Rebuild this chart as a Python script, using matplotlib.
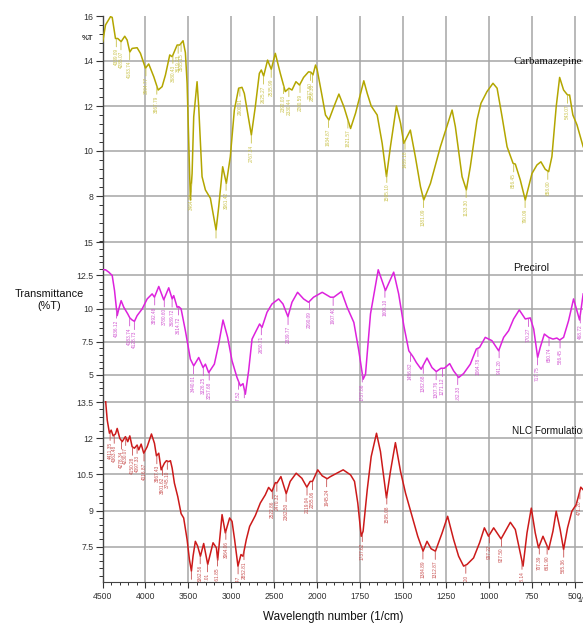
import numpy as np
import matplotlib
matplotlib.use("Agg")
import matplotlib.pyplot as plt
from matplotlib.ticker import AutoMinorLocator, FixedLocator, NullFormatter, FormatStrFormatter

plt.rcParams["font.family"] = ["Liberation Sans", "DejaVu Sans"]

# Carbamazepine spectrum (wavenumber 1/cm, %T)
cbz_wn = [4497, 4465, 4407, 4387, 4349, 4322, 4283, 4241, 4213, 4182, 4155, 4097, 4058,
          4000, 3962, 3903, 3852, 3806, 3767, 3717, 3689, 3631, 3601, 3585, 3562, 3535,
          3515, 3477, 3457, 3438, 3399, 3380, 3341, 3302, 3244, 3213, 3178, 3147, 3101,
          3058, 3012, 2965, 2915, 2876, 2849, 2810, 2767, 2721, 2674, 2651, 2624, 2578,
          2535, 2488, 2430, 2372, 2329, 2294, 2248, 2206, 2159, 2101, 2073, 2050, 2020,
          2000, 1971, 1952, 1932, 1903, 1874, 1845, 1806, 1777, 1729, 1709, 1686, 1651,
          1622, 1597, 1574, 1539, 1515, 1496, 1458, 1429, 1399, 1380, 1341, 1283, 1215,
          1196, 1157, 1132, 1109, 1070, 1047, 1012, 977, 953, 924, 895, 860, 847, 818,
          789, 750, 721, 698, 673, 653, 634, 609, 589, 566, 543, 531, 512, 488, 452]
cbz_t = [14.86, 15.6, 15.97, 15.94, 15.0, 15.0, 14.86, 15.1, 14.93, 14.4, 14.56, 14.59, 14.34,
         13.68, 13.87, 13.3, 12.71, 12.86, 13.38, 14.27, 14.19, 14.71, 14.71, 14.79, 14.9, 14.37,
         13.0, 7.82, 9.0, 11.52, 13.08, 11.97, 8.86, 8.27, 7.9, 7.23, 6.49, 7.52, 9.3,
         8.56, 9.75, 11.82, 12.79, 12.83, 12.56, 11.68, 10.71, 11.97, 13.45, 13.6, 13.33, 14.04,
         13.63, 14.34, 13.45, 12.64, 12.79, 12.71, 13.08, 12.93, 13.27, 13.52, 13.5, 13.38, 13.82,
         13.6, 12.41, 11.6, 11.38, 11.97, 12.53, 11.97, 11.0, 11.68, 13.12, 12.56, 12.0, 11.6,
         10.34, 8.86, 10.19, 12.0, 11.23, 10.34, 10.93, 9.75, 8.41, 7.82, 8.56, 10.19, 11.82,
         11.08, 8.86, 8.27, 9.3, 11.38, 12.12, 12.64, 13.01, 12.79, 11.52, 10.19, 9.45, 9.42, 8.71,
         7.82, 9.0, 9.38, 9.52, 9.19, 9.08, 9.75, 11.97, 13.27, 12.71, 12.49, 12.49, 11.6, 11.16, 10.19]

# Precirol spectrum
prc_wn = [4497, 4465, 4427, 4387, 4360, 4329, 4310, 4283, 4252, 4206, 4182, 4155, 4128,
          4097, 4038, 3980, 3922, 3895, 3845, 3787, 3729, 3689, 3671, 3631, 3613, 3585,
          3535, 3477, 3438, 3380, 3329, 3302, 3264, 3198, 3147, 3097, 3043, 2992, 2934,
          2895, 2864, 2837, 2799, 2759, 2721, 2671, 2643, 2585, 2527, 2450, 2399, 2341,
          2294, 2229, 2159, 2101, 2043, 1971, 1923, 1904, 1859, 1826, 1787, 1758, 1733,
          1719, 1690, 1645, 1603, 1555, 1526, 1496, 1467, 1442, 1423, 1395, 1361, 1332,
          1307, 1280, 1260, 1229, 1206, 1177, 1148, 1109, 1074, 1055, 1022, 983, 944, 915,
          886, 857, 824, 789, 760, 740, 717, 702, 678, 653, 628, 605, 589, 566, 537, 508,
          473, 452]
prc_t = [12.93, 12.93, 12.75, 12.5, 11.36, 9.47, 9.98, 10.6, 10.1, 9.6, 9.3, 9.14, 9.04,
         9.47, 9.98, 10.73, 11.11, 10.86, 11.67, 10.66, 11.57, 10.73, 10.98, 10.1, 10.15, 9.98,
         8.33, 6.19, 5.68, 6.31, 5.55, 5.81, 5.17, 5.81, 7.33, 9.14, 7.83, 6.06, 4.8,
         4.17, 4.34, 3.54, 5.3, 7.7, 8.2, 8.84, 8.58, 9.72, 10.35, 10.73, 10.35, 9.39,
         10.48, 11.23, 10.73, 10.48, 10.86, 11.23, 10.86, 10.86, 11.29, 10.1, 8.96, 6.82, 4.67,
         5.05, 9.6, 12.93, 11.36, 12.75, 11.11, 8.71, 6.82, 6.36, 5.93, 5.43, 6.27, 5.55,
         5.25, 5.5, 5.5, 5.85, 5.3, 4.8, 5.1, 5.81, 6.95, 7.07, 7.83, 7.58, 6.82, 7.83,
         8.33, 9.22, 9.9, 9.22, 9.3, 8.46, 6.31, 7.07, 8.08, 7.83, 7.7, 7.78, 7.63, 7.83, 9.09, 10.73,
         9.14, 11.11]

# NLC formulation spectrum
nlc_wn = [4500, 4465, 4445, 4419, 4399, 4376, 4349, 4329, 4299, 4271, 4233, 4206, 4182,
          4155, 4128, 4097, 4078, 4050, 4020, 3980, 3930, 3895, 3872, 3845, 3817, 3779,
          3756, 3729, 3709, 3689, 3663, 3624, 3585, 3555, 3515, 3488, 3465, 3446, 3419,
          3392, 3360, 3322, 3275, 3213, 3174, 3159, 3136, 3108, 3070, 3020, 2992, 2962,
          2923, 2888, 2864, 2826, 2787, 2721, 2663, 2605, 2566, 2527, 2488, 2469, 2423,
          2361, 2315, 2245, 2179, 2121, 2082, 2055, 1997, 1971, 1942, 1923, 1849, 1806,
          1783, 1764, 1744, 1733, 1709, 1686, 1655, 1632, 1597, 1574, 1545, 1515, 1486,
          1448, 1415, 1384, 1361, 1337, 1312, 1273, 1241, 1206, 1177, 1148, 1128, 1090,
          1055, 1027, 1003, 973, 930, 905, 876, 847, 818, 802, 779, 754, 731, 712, 686,
          653, 628, 609, 586, 566, 543, 518, 493, 480, 466, 452]
nlc_t = [14.2, 13.6, 12.76, 12.21, 12.34, 12.1, 12.18, 12.41, 12.0, 11.86, 12.07, 11.86, 12.1,
         11.65, 11.59, 11.72, 11.52, 11.76, 11.38, 11.65, 12.18, 11.79, 11.27, 11.38, 10.69, 10.97,
         11.07, 11.03, 11.07, 10.76, 10.14, 9.58, 8.87, 8.69, 7.79, 6.96, 6.48, 7.1, 7.72,
         7.52, 7.1, 7.63, 6.76, 7.66, 7.45, 6.94, 7.79, 8.83, 8.07, 8.69, 8.55, 7.79,
         6.69, 7.17, 7.1, 7.79, 8.34, 8.79, 9.31, 9.65, 9.96, 9.79, 10.16, 10.14, 10.41,
         9.7, 10.21, 10.55, 10.34, 9.97, 10.21, 10.21, 10.69, 10.44, 10.32, 10.41, 10.69, 10.48,
         10.21, 9.31, 7.93, 8.14, 9.86, 11.24, 12.21, 11.45, 9.52, 10.62, 11.82, 10.62, 9.72,
         8.76, 7.93, 7.31, 7.72, 7.41, 7.31, 8.07, 8.76, 7.79, 7.1, 6.69, 6.76, 7.03,
         7.66, 8.28, 7.93, 8.28, 7.82, 8.14, 8.51, 8.21, 7.24, 6.69, 8.07, 9.1, 8.07, 7.45, 7.93,
         7.38, 8.14, 8.97, 8.21, 7.38, 8.28, 8.97, 9.24, 9.58, 9.97, 9.86]

# peak-pick labels
cbz_peaks = ["4339.09", "4285.07", "4183.74", "3994.77", "3867.79", "3680.43", "3619.23",
             "3585.15", "3464.27", "3178.45", "3061.42", "2900.91", "2767.34", "2625.27",
             "2535.99", "2392.03", "2330.44", "2200.59", "2077.60", "2056.33", "1934.87",
             "1821.57", "1595.10", "1489.18", "1381.09", "1133.30", "856.45", "790.09",
             "658.00", "543.07"]
prc_peaks = ["4336.12", "4183.74", "4128.73", "3892.48", "3780.60", "3689.72", "3614.72",
             "3440.01", "3326.25", "3257.68", "2917.52", "2849.03", "2650.71", "2339.77",
             "2090.09", "1907.40", "1737.86", "1606.10", "1456.82", "1382.68", "1307.76",
             "1271.12", "1182.33", "1064.78", "941.20", "770.27", "717.75", "650.74",
             "586.45", "468.72"]
nlc_peaks = ["4411.35", "4363.48", "4278.34", "4230.07", "4150.28", "4097.33", "4016.87",
             "3867.43", "3801.62", "3745.10", "3465.30", "3362.56", "3277.01", "3161.85",
             "3064.06", "2921.47", "2852.81", "2522.86", "2470.32", "2362.50", "2119.04",
             "2055.06", "1945.24", "1737.62", "1595.08", "1384.89", "1312.87", "1135.20",
             "997.22", "927.50", "808.14", "707.39", "661.90", "565.36", "471.20"]

x_major = [4500, 4000, 3500, 3000, 2500, 2000, 1750, 1500, 1250, 1000, 750, 500]
x_minor = list(range(4400, 2000, -100)) + list(range(1950, 450, -50))


def fwd(x):
    # above 2000 1/cm the axis runs at half scale
    x = np.asarray(x, dtype=float)
    return np.where(x > 2000, 2000 + (x - 2000) / 2, x)


def inv(x):
    x = np.asarray(x, dtype=float)
    return np.where(x > 2000, 2000 + (x - 2000) * 2, x)


def draw_panel(ax, wn, t, peaks, color, label_color, ylim, yticks, grid_y):
    ax.set_xscale("function", functions=(fwd, inv))
    ax.set_xlim(4500, 453)
    ax.set_ylim(*ylim)
    ax.patch.set_visible(False)
    for v in x_major:
        ax.axvline(v, color="#a6a6a6", lw=1.1, zorder=0)
    for v in grid_y:
        ax.axhline(v, color="#a6a6a6", lw=1.1, zorder=0)
    ax.plot(wn, t, color=color, lw=1.1, zorder=3)

    wn_up = np.asarray(wn)[::-1]
    t_up = np.asarray(t)[::-1]
    for p in peaks:
        w = float(p)
        y = np.interp(w, wn_up, t_up)
        ax.annotate("", xy=(w, y), xytext=(0, -6), textcoords="offset points",
                    xycoords="data", arrowprops=dict(arrowstyle="-", color=label_color,
                                                     lw=0.6, shrinkA=0, shrinkB=0.5),
                    annotation_clip=True)
        ax.annotate(p, xy=(w, y), xytext=(0, -7), textcoords="offset points",
                    rotation=90, ha="center", va="top", fontsize=3.4,
                    color=label_color, clip_on=True)

    ax.set_yticks(yticks)
    ax.yaxis.set_major_formatter(FormatStrFormatter("%g"))
    ax.yaxis.set_minor_locator(AutoMinorLocator(5))
    ax.tick_params(axis="y", which="major", length=5, width=0.8, labelsize=6.3,
                   colors="#333333", pad=1.5)
    ax.tick_params(axis="y", which="minor", length=3, width=0.7, colors="#333333")
    for side in ("top", "right", "bottom"):
        ax.spines[side].set_visible(False)
    ax.spines["left"].set_color("#444444")
    ax.spines["left"].set_linewidth(1.0)


W, H = 583, 625
fig = plt.figure(figsize=(W / 100, H / 100), dpi=100)
left = 102.5 / W
width = 1 - left
ax1 = fig.add_axes([left, 1 - 241 / H, width, 225 / H])
ax2 = fig.add_axes([left, 1 - 401 / H, width, 160 / H])
ax3 = fig.add_axes([left, 1 - 582 / H, width, 181 / H])

draw_panel(ax1, cbz_wn, cbz_t, cbz_peaks, "#b3a600", "#c9c24a",
           (6.0, 16.0), [8, 10, 12, 14, 16], [8, 10, 12, 14])
draw_panel(ax2, prc_wn, prc_t, prc_peaks, "#dd22dd", "#d055d0",
           (3.03, 15.1), [5, 7.5, 10, 12.5, 15], [5, 7.5, 10, 12.5, 15])
draw_panel(ax3, nlc_wn, nlc_t, nlc_peaks, "#cc1a1a", "#c85050",
           (6.03, 13.55), [7.5, 9, 10.5, 12, 13.5], [7.5, 9, 10.5, 12, 13.5])

for ax in (ax1, ax2):
    ax.xaxis.set_major_locator(FixedLocator(x_major))
    ax.tick_params(axis="x", which="both", bottom=False, labelbottom=False)
    ax.xaxis.set_minor_locator(FixedLocator([]))

ax3.spines["bottom"].set_visible(True)
ax3.spines["bottom"].set_color("#444444")
ax3.xaxis.set_major_locator(FixedLocator(x_major))
ax3.xaxis.set_minor_locator(FixedLocator(x_minor))
ax3.xaxis.set_minor_formatter(NullFormatter())
ax3.set_xticklabels([str(v) for v in x_major])
ax3.tick_params(axis="x", which="major", length=4, width=0.8, labelsize=6.2,
                colors="#333333", pad=3)
ax3.tick_params(axis="x", which="minor", length=2.5, width=0.7, colors="#333333")

fig.text(88 / W, 1 - 38 / H, "%T", ha="center", va="center",
         fontsize=5.5, color="#333333", fontweight="bold")
fig.text(513 / W, 1 - 61 / H, "Carbamazepine", ha="left", va="center",
         fontsize=7.9, family="Liberation Serif", color="#111111")
fig.text(531 / W, 1 - 268 / H, "Precirol", ha="center", va="center",
         fontsize=7.6, color="#111111")
fig.text(512 / W, 1 - 431 / H, "NLC Formulation", ha="left", va="center",
         fontsize=7.2, color="#111111")

fig.text(49 / W, 1 - 300 / H, "Transmittance\n(%T)", ha="center", va="center",
         fontsize=7.8, color="#111111", linespacing=1.35)
fig.text(333 / W, 1 - 617 / H, "Wavelength number (1/cm)", ha="center",
         va="center", fontsize=8.4, color="#111111")
fig.text(577 / W, 1 - 601 / H, "1/cm", ha="left", va="center", fontsize=5,
         color="#333333")

fig.savefig("out.png", dpi=100)
